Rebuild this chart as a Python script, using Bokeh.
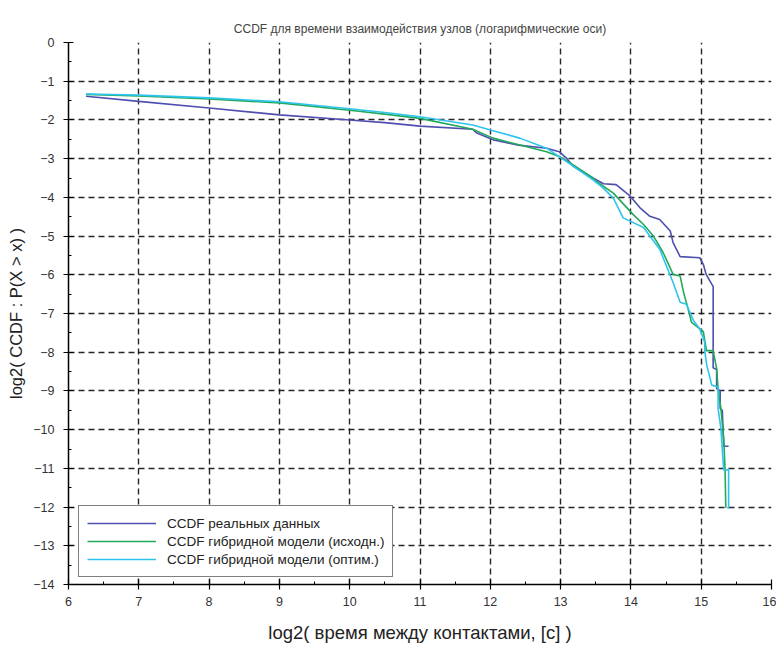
from bokeh.plotting import figure
from bokeh.models import Range1d, FixedTicker, Legend, LegendItem
from bokeh.embed import file_html
from bokeh.resources import INLINE

# ---- data ----
real_x = [6.25, 7.0, 8.0, 9.0, 10.0, 10.5, 11.0, 11.75, 11.8, 12.05, 12.4, 12.8, 12.98,
          13.08, 13.18, 13.46, 13.61, 13.79, 13.99, 14.13, 14.27, 14.41, 14.56, 14.60,
          14.70, 14.98, 15.03, 15.07, 15.15, 15.17, 15.17, 15.22, 15.22, 15.27, 15.27,
          15.30, 15.32, 15.39]
real_y = [-1.39, -1.52, -1.69, -1.87, -2.0, -2.07, -2.16, -2.24, -2.33, -2.52, -2.65, -2.73, -2.82,
          -2.98, -3.2, -3.5, -3.65, -3.67, -3.97, -4.27, -4.49, -4.57, -4.87, -5.17,
          -5.53, -5.56, -5.73, -5.99, -6.24, -6.3, -8.4, -8.45, -8.94, -9.0, -9.45,
          -9.5, -10.43, -10.43]

hyb_x = [6.25, 7.0, 8.0, 9.0, 10.0, 10.5, 11.0, 11.75, 12.04, 12.42, 12.8, 12.99, 13.18,
         13.46, 13.51, 13.75, 14.03, 14.18, 14.32, 14.46, 14.60, 14.70, 14.75, 14.84,
         14.86, 15.03, 15.07, 15.07, 15.17, 15.22, 15.24, 15.28, 15.32, 15.34, 15.35]
hyb_y = [-1.34, -1.38, -1.46, -1.56, -1.75, -1.85, -1.96, -2.24, -2.47, -2.65, -2.82, -2.95, -3.16,
         -3.5, -3.59, -3.89, -4.44, -4.70, -5.0, -5.43, -5.99, -6.03, -6.46, -7.06,
         -7.22, -7.47, -7.91, -7.96, -7.96, -8.43, -8.94, -9.45, -10.22, -11.07, -12.02]

opt_x = [6.25, 7.0, 8.0, 9.0, 10.0, 10.5, 11.0, 11.75, 12.04, 12.42, 12.8, 13.08, 13.46,
         13.6, 13.75, 13.89, 14.18, 14.41, 14.60, 14.70, 14.79, 14.89, 14.98, 15.05,
         15.05, 15.08, 15.15, 15.24, 15.24, 15.28, 15.32, 15.39, 15.39, 15.37]
opt_y = [-1.33, -1.36, -1.43, -1.53, -1.71, -1.81, -1.92, -2.13, -2.28, -2.47, -2.73, -3.07, -3.55,
         -3.75, -4.02, -4.53, -4.78, -5.34, -6.20, -6.71, -6.76, -7.18, -7.40, -7.74,
         -7.96, -8.34, -8.85, -8.90, -9.45, -9.97, -11.04, -11.04, -12.02, -12.02]

labels = ["CCDF реальных данных",
          "CCDF гибридной модели (исходн.)",
          "CCDF гибридной модели (оптим.)"]
colors = ["#4f4fb0", "#22a85a", "#2ec4ef"]

x_ticks = list(range(6, 17))
y_ticks = list(range(-14, 1))

FONT = "Liberation Sans"

p = figure(width=776, height=646, output_backend="svg", toolbar_location=None,
           x_range=Range1d(6, 16), y_range=Range1d(-14, 0),
           title="CCDF для времени взаимодействия узлов (логарифмические оси)",
           min_border_left=68, min_border_right=5, min_border_top=42, min_border_bottom=62)

p.title.align = "center"
p.title.text_font = FONT
p.title.text_font_size = "12px"
p.title.text_font_style = "normal"
p.title.standoff = 14

p.outline_line_color = None
p.background_fill_color = "white"
p.border_fill_color = "white"

p.xaxis.ticker = FixedTicker(ticks=x_ticks, minor_ticks=[t + 0.5 for t in x_ticks[:-1]])
p.yaxis.ticker = FixedTicker(ticks=y_ticks, minor_ticks=[t + 0.5 for t in y_ticks[:-1]])

for ax in (p.xaxis, p.yaxis):
    ax.axis_line_color = "black"
    ax.axis_line_width = 1.5
    ax.major_tick_line_color = "black"
    ax.major_tick_line_width = 1.2
    ax.major_tick_in = 5
    ax.major_tick_out = 5
    ax.minor_tick_line_color = "black"
    ax.minor_tick_in = 3
    ax.minor_tick_out = 0
    ax.major_label_text_font = FONT
    ax.major_label_text_font_size = "12.5px"
    ax.major_label_text_color = "#333333"
    ax.axis_label_text_font = FONT
    ax.axis_label_text_font_style = "normal"
    ax.axis_label_text_color = "#222222"

p.xaxis.axis_label = "log2( время между контактами, [c] )"
p.yaxis.axis_label = "log2( CCDF : P(X > x) )"
p.xaxis.axis_label_text_font_size = "18.5px"
p.yaxis.axis_label_text_font_size = "16.5px"
p.xaxis.major_label_standoff = 7
p.yaxis.major_label_standoff = 9
p.xaxis.axis_label_standoff = 13
p.yaxis.axis_label_standoff = 5

for g in (p.xgrid, p.ygrid):
    g.grid_line_color = "black"
    g.grid_line_width = 1.4
    g.grid_line_dash = "6 4"
    g.grid_line_alpha = 0.85

r1 = p.line(real_x, real_y, line_color=colors[0], line_width=1.6)
r2 = p.line(hyb_x, hyb_y, line_color=colors[1], line_width=1.6)
r3 = p.line(opt_x, opt_y, line_color=colors[2], line_width=1.6)

legend = Legend(items=[LegendItem(label=labels[0], renderers=[r1]),
                       LegendItem(label=labels[1], renderers=[r2]),
                       LegendItem(label=labels[2], renderers=[r3])],
                location=(10, 7))
legend.label_text_font = FONT
legend.label_text_font_size = "13.5px"
legend.label_text_color = "#222222"
legend.glyph_width = 69
legend.glyph_height = 18
legend.label_height = 18
legend.label_standoff = 11
legend.spacing = 0
legend.padding = 8
legend.margin = 0
legend.border_line_color = "black"
legend.border_line_width = 1.2
legend.background_fill_color = "white"
legend.background_fill_alpha = 1.0
p.add_layout(legend, "center")

open("out.html", "w").write(file_html(p, INLINE))
